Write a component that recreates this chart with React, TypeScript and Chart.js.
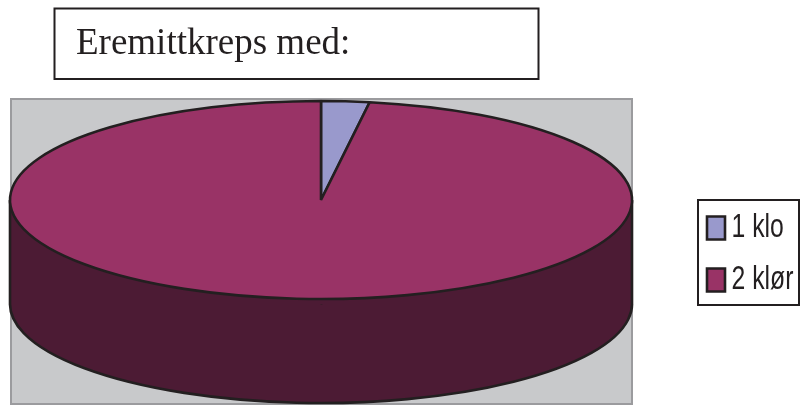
import React, { useEffect, useRef } from "react";
import { Chart, registerables } from "chart.js";

Chart.register(...registerables);

const categories = ["1 klo", "2 klør"];
const values = [2.5, 97.5];
const topColors = ["#9999CC", "#993366"];
const sideColors = ["#4C1B34", "#4C1B34"];
const titleText = "Eremittkreps med:";

const INK = "#231F20";
const PIE = { cx: 321, cy: 200, rx: 311, ry: 99, depth: 104 };
const LEGEND_TEXT_SQUEEZE = 0.75;
const LEGEND_TEXT_SHIFT = -10;

function toEllipse(ctx: any, arc: any) {
  const k = arc.outerRadius;
  ctx.translate(PIE.cx, PIE.cy);
  ctx.scale(PIE.rx / k, PIE.ry / k);
  ctx.translate(-arc.x, -arc.y);
}

// keeps the stroke width even although the path is squeezed into an ellipse
function evenStroke(ctx: any, dpr: number) {
  const native = CanvasRenderingContext2D.prototype.stroke;
  ctx.stroke = function () {
    ctx.save();
    ctx.setTransform(dpr, 0, 0, dpr, 0, 0);
    native.call(ctx);
    ctx.restore();
  };
}

function drawAs(arc: any, ctx: any, fill: string, border: number) {
  const saved = arc.options;
  arc.options = { ...saved, backgroundColor: fill, borderColor: INK, borderWidth: border };
  arc.draw(ctx);
  arc.options = saved;
}

const piePlugin = {
  id: "tiltedPie",
  afterLayout(chart: any) {
    const lg = chart.legend;
    lg.left = 688;
    lg.right = 800;
    lg.top = 192.5;
    lg.bottom = 405;
    if (!lg.__narrow) {
      lg.__narrow = true;
      const drawLegend = lg.draw.bind(lg);
      lg.draw = (...args: any[]) => {
        const ctx = chart.ctx;
        const native = CanvasRenderingContext2D.prototype.fillText;
        ctx.fillText = function (text: string, x: number, y: number) {
          ctx.save();
          ctx.translate(x + LEGEND_TEXT_SHIFT, y);
          ctx.scale(LEGEND_TEXT_SQUEEZE, 1);
          native.call(ctx, text, 0, 0);
          ctx.restore();
        };
        drawLegend(...args);
        delete ctx.fillText;
      };
    }
    const t = chart.titleBlock;
    t.left = 76;
    t.right = 536;
    t.top = 22;
    t.bottom = t.top + t.height;
  },
  beforeDraw(chart: any) {
    const ctx = chart.ctx;
    ctx.save();
    ctx.fillStyle = "#FFFFFF";
    ctx.fillRect(0, 0, 800, 405);
    ctx.fillStyle = "#C8C9CB";
    ctx.strokeStyle = "#9B9B9E";
    ctx.lineWidth = 2;
    ctx.fillRect(11, 99, 621, 305);
    ctx.strokeRect(11, 99, 621, 305);
    ctx.strokeStyle = INK;
    ctx.lineWidth = 2;
    ctx.strokeRect(54.5, 8.5, 484, 70.5);
    ctx.lineWidth = 2;
    ctx.strokeRect(698, 200, 101, 105);
    ctx.restore();
  },
  beforeDatasetDraw(chart: any) {
    const ctx = chart.ctx;
    const dpr = chart.currentDevicePixelRatio;
    const arcs = chart.getDatasetMeta(0).data;
    evenStroke(ctx, dpr);

    // wall between the two ellipses
    ctx.save();
    ctx.fillStyle = sideColors[1];
    ctx.fillRect(PIE.cx - PIE.rx, PIE.cy, PIE.rx * 2, PIE.depth);
    ctx.restore();

    // lower rim, only its front half
    ctx.save();
    ctx.beginPath();
    ctx.rect(0, PIE.cy + PIE.depth, 800, 200);
    ctx.clip();
    arcs.forEach((arc: any, i: number) => {
      ctx.save();
      ctx.translate(0, PIE.depth);
      toEllipse(ctx, arc);
      drawAs(arc, ctx, sideColors[i], arc.options.borderWidth);
      ctx.restore();
    });
    ctx.restore();

    // wall edges
    ctx.save();
    ctx.strokeStyle = INK;
    ctx.lineWidth = arcs[0].options.borderWidth;
    ctx.beginPath();
    ctx.moveTo(PIE.cx - PIE.rx, PIE.cy);
    ctx.lineTo(PIE.cx - PIE.rx, PIE.cy + PIE.depth);
    ctx.moveTo(PIE.cx + PIE.rx, PIE.cy);
    ctx.lineTo(PIE.cx + PIE.rx, PIE.cy + PIE.depth);
    ctx.stroke();
    ctx.restore();

    // top face: the chart's own dataset draw, under the squeeze
    ctx.save();
    toEllipse(ctx, arcs[0]);
  },
  afterDatasetDraw(chart: any) {
    const ctx = chart.ctx;
    ctx.restore();
    delete ctx.stroke;
  },
};

export default function App() {
  const ref = useRef<HTMLCanvasElement>(null);
  useEffect(() => {
    const chart = new Chart(ref.current as HTMLCanvasElement, {
      type: "pie",
      data: {
        labels: categories,
        datasets: [
          {
            data: values,
            backgroundColor: topColors,
            borderColor: INK,
            borderWidth: 2.6,
            clip: false,
          } as any,
        ],
      },
      options: {
        animation: false,
        responsive: false,
        events: [],
        layout: { padding: 0 },
        plugins: {
          tooltip: { enabled: false },
          title: {
            display: true,
            text: titleText,
            align: "start",
            color: INK,
            padding: 0,
            font: { family: "'Liberation Serif', serif", size: 37, weight: "normal" },
          },
          legend: {
            position: "right",
            align: "start",
            labels: {
              boxWidth: 18,
              boxHeight: 23,
              padding: 19,
              color: INK,
              font: { family: "'Liberation Sans', sans-serif", size: 33 },
            },
          },
        },
      },
      plugins: [piePlugin],
    } as any);
    return () => chart.destroy();
  }, []);
  return (
    <canvas
      ref={ref}
      width={800}
      height={405}
      style={{ position: "fixed", left: 0, top: 0, width: 800, height: 405, display: "block" }}
    />
  );
}
